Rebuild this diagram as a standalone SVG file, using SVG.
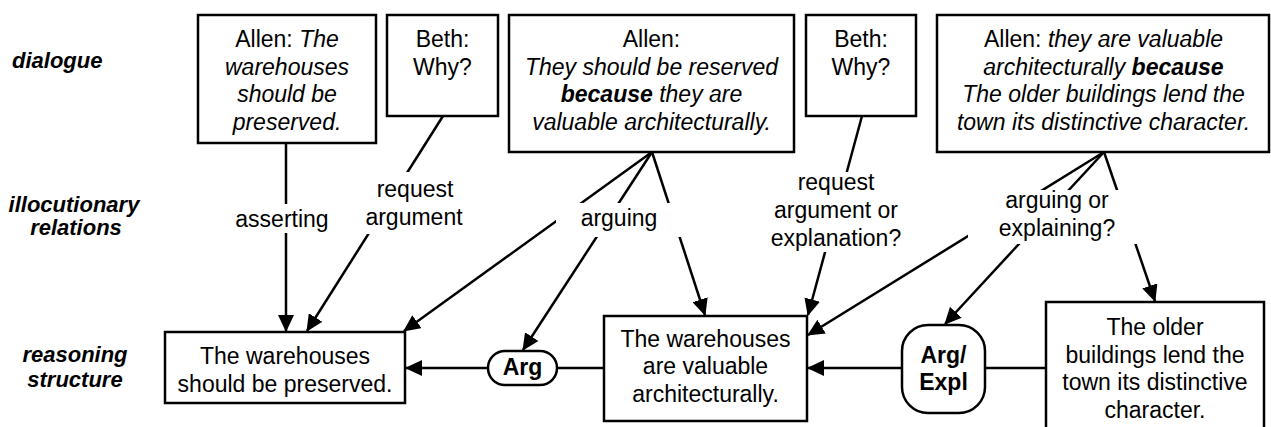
<svg xmlns="http://www.w3.org/2000/svg" width="1271" height="427" viewBox="0 0 1271 427">
<style>
  .box { fill: #fff; stroke: #000; stroke-width: 2.5; }
  .t { font-family: "Liberation Sans", Arial, sans-serif; font-size: 23px; fill: #000; text-anchor: middle; }
  .lab { font-family: "Liberation Sans", Arial, sans-serif; font-size: 22px; font-weight: bold; font-style: italic; fill: #000; }
  .i { font-style: italic; }
  .bi { font-style: italic; font-weight: bold; }
  .b { font-weight: bold; }
  .ln { stroke: #000; stroke-width: 2.5; fill: none; }
  .bg { fill: #fff; stroke: none; }
</style>
<defs>
  <marker id="arr" markerUnits="userSpaceOnUse" markerWidth="17" markerHeight="16" viewBox="0 0 17 16" refX="16" refY="8" orient="auto">
    <path d="M0,0 L17,8 L0,16 z" fill="#000"/>
  </marker>
</defs>
<rect width="1271" height="427" fill="#fff"/>

<g id="row-labels">
  <text class="lab" x="12" y="68">dialogue</text>
  <text class="lab" x="74" y="212" text-anchor="middle">illocutionary</text>
  <text class="lab" x="76" y="235" text-anchor="middle">relations</text>
  <text class="lab" x="75" y="362" text-anchor="middle">reasoning</text>
  <text class="lab" x="75" y="387" text-anchor="middle">structure</text>
</g>

<g id="connectors">
  <path class="ln" d="M286,143 L286,331" marker-end="url(#arr)"/>
  <path class="ln" d="M443,116 L307,331" marker-end="url(#arr)"/>
  <path class="ln" d="M652,152 L404,331" marker-end="url(#arr)"/>
  <path class="ln" d="M652,152 L523,350" marker-end="url(#arr)"/>
  <path class="ln" d="M652,152 L705,315" marker-end="url(#arr)"/>
  <path class="ln" d="M862,116 L808,315" marker-end="url(#arr)"/>
  <path class="ln" d="M1104,152 L808,335" marker-end="url(#arr)"/>
  <path class="ln" d="M1104,152 L945,324" marker-end="url(#arr)"/>
  <path class="ln" d="M1104,152 L1155,301" marker-end="url(#arr)"/>
  <path class="ln" d="M488,368 L406,368" marker-end="url(#arr)"/>
  <path class="ln" d="M604,368 L557,368"/>
  <path class="ln" d="M902,368 L808,368" marker-end="url(#arr)"/>
  <path class="ln" d="M1046,368 L985,368"/>
</g>

<g id="label-asserting">
  <rect class="bg" x="232" y="204" width="102" height="29"/>
  <text class="t" x="282" y="227">asserting</text>
</g>
<g id="label-request-argument">
  <rect class="bg" x="358" y="172" width="112" height="62"/>
  <text class="t" x="415" y="197">request</text>
  <text class="t" x="414" y="225">argument</text>
</g>
<g id="label-arguing">
  <rect class="bg" x="556" y="203" width="126" height="34"/>
  <text class="t" x="619" y="226">arguing</text>
</g>
<g id="label-request-argument-explanation">
  <rect class="bg" x="768" y="172" width="136" height="80"/>
  <text class="t" x="836" y="190">request</text>
  <text class="t" x="836" y="218">argument or</text>
  <text class="t" x="836" y="246">explanation?</text>
</g>
<g id="label-arguing-explaining">
  <rect class="bg" x="968" y="190" width="170" height="54"/>
  <text class="t" x="1057" y="208">arguing or</text>
  <text class="t" x="1057" y="236">explaining?</text>
</g>

<g id="d1">
  <rect class="box" x="198" y="15" width="178" height="128"/>
  <text class="t" x="287" y="47">Allen: <tspan class="i">The</tspan></text>
  <text class="t i" x="287" y="74.5">warehouses</text>
  <text class="t i" x="287" y="102">should be</text>
  <text class="t i" x="287" y="129.5">preserved.</text>
</g>
<g id="d2">
  <rect class="box" x="387" y="15" width="111" height="101"/>
  <text class="t" x="442.5" y="47">Beth:</text>
  <text class="t" x="442.5" y="74.5">Why?</text>
</g>
<g id="d3">
  <rect class="box" x="509" y="15" width="285" height="137"/>
  <text class="t" x="651.5" y="47">Allen:</text>
  <text class="t i" x="651.5" y="74.5">They should be reserved</text>
  <text class="t" x="651.5" y="102"><tspan class="bi">because</tspan><tspan class="i"> they are</tspan></text>
  <text class="t i" x="651.5" y="129.5">valuable architecturally.</text>
</g>
<g id="d4">
  <rect class="box" x="806" y="15" width="110" height="101"/>
  <text class="t" x="861" y="47">Beth:</text>
  <text class="t" x="861" y="74.5">Why?</text>
</g>
<g id="d5">
  <rect class="box" x="937" y="15" width="332" height="137"/>
  <text class="t" x="1103.5" y="47">Allen: <tspan class="i">they are valuable</tspan></text>
  <text class="t" x="1103.5" y="74.5"><tspan class="i">architecturally </tspan><tspan class="bi">because</tspan></text>
  <text class="t i" x="1103.5" y="102">The older buildings lend the</text>
  <text class="t i" x="1103.5" y="129.5">town its distinctive character.</text>
</g>

<g id="r1">
  <rect class="box" x="165" y="332" width="240" height="71"/>
  <text class="t" x="285" y="364">The warehouses</text>
  <text class="t" x="285" y="392">should be preserved.</text>
</g>
<g id="arg">
  <rect class="box" x="488" y="351" width="69" height="34" rx="17" ry="17"/>
  <text class="t b" x="522.5" y="375" font-size="22">Arg</text>
</g>
<g id="r2">
  <rect class="box" x="604" y="316" width="203" height="105"/>
  <text class="t" x="705.5" y="346.5">The warehouses</text>
  <text class="t" x="705.5" y="374">are valuable</text>
  <text class="t" x="705.5" y="401.5">architecturally.</text>
</g>
<g id="argexpl">
  <rect class="box" x="902" y="325" width="83" height="88" rx="26" ry="26"/>
  <text class="t b" x="943.5" y="363" font-size="22">Arg/</text>
  <text class="t b" x="943.5" y="390" font-size="22">Expl</text>
</g>
<g id="r3">
  <rect class="box" x="1046" y="302" width="218" height="140"/>
  <text class="t" x="1155" y="335">The older</text>
  <text class="t" x="1155" y="362.5">buildings lend the</text>
  <text class="t" x="1155" y="390">town its distinctive</text>
  <text class="t" x="1155" y="418">character.</text>
</g>
</svg>
